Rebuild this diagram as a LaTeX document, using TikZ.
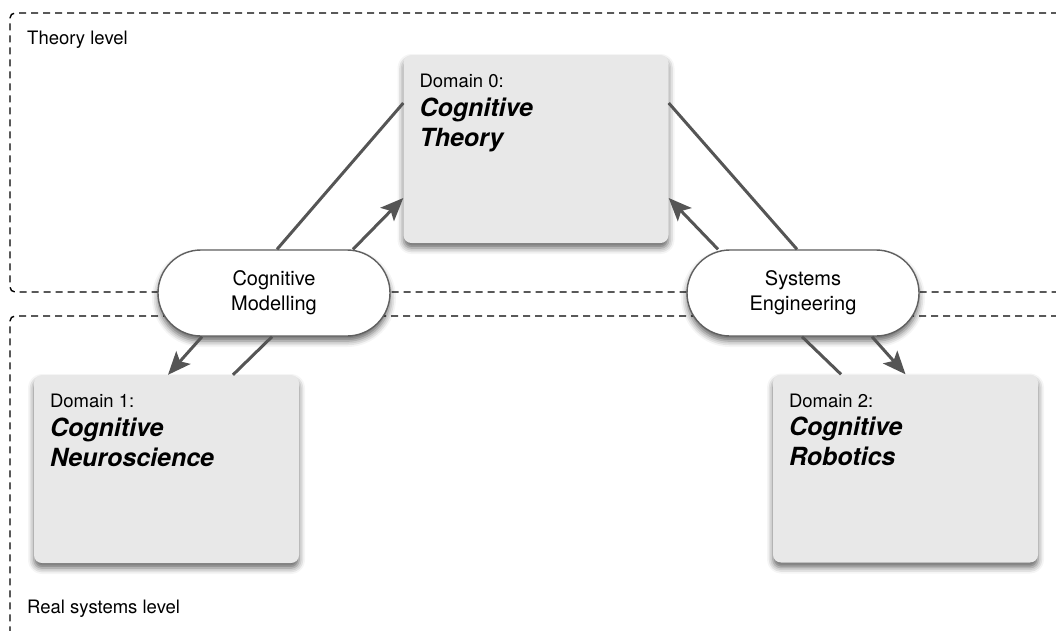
\documentclass[tikz,border=0pt]{standalone}
\usepackage{fontspec}
\setmainfont{TeX Gyre Heros}
\usetikzlibrary{arrows.meta,shadows.blur}

\definecolor{boxfill}{HTML}{E8E8E8}
\definecolor{linkgray}{HTML}{555555}
\definecolor{pillborder}{HTML}{606060}

\begin{document}
\begin{tikzpicture}[x=1pt,y=-1pt,
  frame/.style={draw=black,line width=1.4pt,dash pattern=on 7pt off 5pt,rounded corners=5pt},
  levellabel/.style={anchor=base west,inner sep=0pt,font=\fontsize{18.5}{22}\selectfont},
  domainbox/.style={fill=boxfill,draw=none,rounded corners=8pt,
    minimum width=265pt,minimum height=188pt,inner sep=0pt,
    blur shadow={shadow xshift=0pt,shadow yshift=-5pt,shadow blur radius=6pt,shadow opacity=60}},
  domainhead/.style={anchor=base west,inner sep=0pt,font=\fontsize{18.5}{22}\selectfont},
  domaintitle/.style={anchor=north west,inner sep=0pt,align=left,
    font=\fontsize{25}{30}\selectfont\bfseries\itshape},
  pill/.style={draw=pillborder,line width=1.4pt,fill=white,rounded corners=43pt,
    minimum width=232pt,minimum height=86pt,inner sep=0pt,align=center,
    font=\fontsize{20}{25}\selectfont,
    blur shadow={shadow xshift=0pt,shadow yshift=-5pt,shadow blur radius=6pt,shadow opacity=60}},
  link/.style={draw=linkgray,line width=3pt},
  arrowlink/.style={link,-{Stealth[length=23pt,width=19pt,inset=5pt]}}
]
\useasboundingbox (0,0) rectangle (1056,630);
\clip (0,0) rectangle (1056,630);

% level frames (open to the right)
\draw[frame] (1070,13) -- (10,13) -- (10,292) -- (1070,292);
\draw[frame] (1070,316) -- (10,316) -- (10,640);
\node[levellabel] (theory) at (27,44) {Theory level};
\node[levellabel] (real) at (27,613) {Real systems level};

% domains
\node[domainbox] (d0) at (536,149) {};
\node[domainbox] (d1) at (166.5,469) {};
\node[domainbox] (d2) at (905.5,468.5) {};

\node[domainhead] (d0h) at ([xshift=16pt,yshift=-33pt]d0.north west) {Domain 0:};
\node[domaintitle] (d0t) at ([xshift=16pt,yshift=-42.5pt]d0.north west) {Cognitive\\Theory};
\node[domainhead] (d1h) at ([xshift=16pt,yshift=-33pt]d1.north west) {Domain 1:};
\node[domaintitle] (d1t) at ([xshift=16pt,yshift=-42.5pt]d1.north west) {Cognitive\\Neuroscience};
\node[domainhead] (d2h) at ([xshift=16pt,yshift=-33pt]d2.north west) {Domain 2:};
\node[domaintitle] (d2t) at ([xshift=16pt,yshift=-42.5pt]d2.north west) {Cognitive\\Robotics};

% methods linking the domains
\node[pill] (cm) at (274,293) {Cognitive\\Modelling};
\node[pill] (se) at (803,293) {Systems\\Engineering};

% connectors
\draw[link] ([xshift=3pt]cm.north) -- ([yshift=46pt]d0.west);
\draw[arrowlink] ([xshift=79pt]cm.north) -- ([yshift=-49pt]d0.west);
\draw[arrowlink] ([xshift=-72pt]cm.south) -- ([xshift=1.5pt]d1.north);
\draw[link] ([xshift=66.5pt]d1.north) -- ([xshift=-2pt]cm.south);

\draw[link] ([yshift=46pt]d0.east) -- ([xshift=-6pt]se.north);
\draw[arrowlink] ([xshift=-85pt]se.north) -- ([yshift=-49pt]d0.east);
\draw[link] ([xshift=-1pt]se.south) -- ([xshift=-64.5pt]d2.north);
\draw[arrowlink] ([xshift=69pt]se.south) -- (d2.north);
\end{tikzpicture}
\end{document}
